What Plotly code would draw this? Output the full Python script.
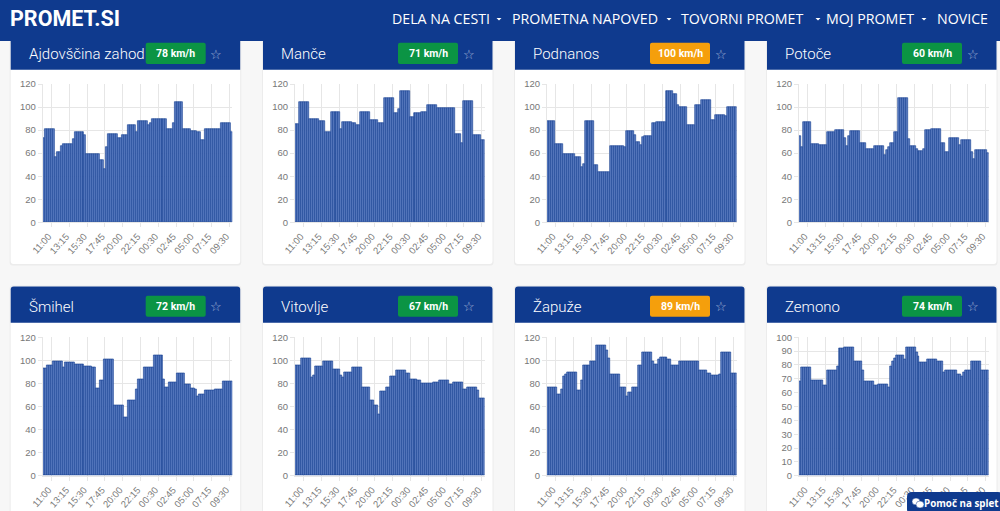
import plotly.graph_objects as go

times = ["10:00","10:15","10:30","10:45","11:00","11:15","11:30","11:45","12:00","12:15","12:30","12:45",
"13:00","13:15","13:30","13:45","14:00","14:15","14:30","14:45","15:00","15:15","15:30","15:45",
"16:00","16:15","16:30","16:45","17:00","17:15","17:30","17:45","18:00","18:15","18:30","18:45",
"19:00","19:15","19:30","19:45","20:00","20:15","20:30","20:45","21:00","21:15","21:30","21:45",
"22:00","22:15","22:30","22:45","23:00","23:15","23:30","23:45","00:00","00:15","00:30","00:45",
"01:00","01:15","01:30","01:45","02:00","02:15","02:30","02:45","03:00","03:15","03:30","03:45",
"04:00","04:15","04:30","04:45","05:00","05:15","05:30","05:45","06:00","06:15","06:30","06:45",
"07:00","07:15","07:30","07:45","08:00","08:15","08:30","08:45","09:00","09:15","09:30","09:45"]
tick_labels = ["11:00","13:15","15:30","17:45","20:00","22:15","00:30","02:45","05:00","07:15","09:30"]

ajdovscina = [73,81,81,81,81,81,57,61,61,66,68,68,68,68,68,72,78,78,78,78,78,76,59,59,59,59,59,59,59,54,54,46,
65,77,77,77,77,77,73,73,76,76,76,84,84,84,84,78,88,88,88,88,88,84,86,90,90,90,90,90,90,90,90,81,81,81,
86,104,104,104,104,81,81,81,81,79,79,79,78,78,71,71,81,81,81,81,81,81,81,81,86,86,86,86,86,78]
mance = [85,85,104,104,104,104,104,90,90,90,90,90,88,88,88,78,78,78,96,96,96,96,96,81,87,87,87,87,87,86,86,84,84,
96,96,96,96,96,89,89,89,89,86,86,86,108,108,108,108,108,95,95,98,114,114,114,114,114,91,91,95,95,95,95,
96,96,96,102,102,102,102,102,99,99,99,99,99,99,99,99,99,77,77,77,69,105,105,105,105,105,76,76,76,76,71,71]
podnanos = [88,88,88,88,68,68,68,68,59,59,59,59,59,59,57,57,57,48,51,88,88,88,88,88,50,50,44,44,44,44,44,44,
66,66,66,66,66,66,66,65,79,79,79,79,76,70,70,67,74,75,75,75,75,86,86,87,87,87,87,87,114,114,114,114,
111,111,102,100,100,100,100,84,84,84,84,102,102,102,106,106,106,106,106,89,89,93,93,93,93,93,92,100,100,100,100,100]
potoce = [75,65,87,87,87,87,68,68,68,68,67,67,67,67,78,78,78,78,80,80,80,80,80,73,66,75,79,79,79,79,79,69,69,69,
64,64,64,64,66,66,66,66,66,58,63,65,69,69,78,78,108,108,108,108,108,72,66,66,66,64,62,62,62,64,
80,80,80,81,81,81,81,81,69,69,61,61,73,73,73,73,73,67,71,71,71,71,71,61,55,63,63,63,63,63,63,60]
smihel = [93,93,96,96,96,99,99,99,99,99,94,98,98,98,98,98,97,97,97,97,97,95,95,95,95,94,94,76,76,83,83,
101,101,101,101,101,61,61,61,61,61,51,51,65,65,65,65,75,84,84,84,94,94,94,94,94,104,104,104,104,104,84,77,77,
81,81,81,81,89,89,89,89,79,79,79,76,76,75,69,71,71,71,74,74,74,74,74,75,75,75,75,82,82,82,82,82]
vitovlje = [96,96,96,102,102,102,102,102,85,87,95,95,95,95,99,99,99,99,99,92,92,92,92,87,85,90,90,90,90,94,94,94,94,94,
77,77,77,77,65,65,61,61,53,73,73,73,77,77,86,86,86,91,91,91,91,91,89,89,84,84,84,84,83,83,
80,80,80,80,80,80,81,81,81,83,83,83,83,83,79,79,81,81,81,81,81,75,75,77,77,77,77,77,74,67,67,67]
zapuze = [77,77,77,77,77,71,71,75,86,88,90,90,90,90,90,74,74,83,96,96,96,96,99,99,99,113,113,113,113,113,109,102,
88,88,88,88,88,77,77,77,69,72,72,77,77,77,96,96,107,107,107,107,107,99,97,97,101,103,103,103,103,101,101,
96,96,96,96,99,99,99,99,99,99,99,99,99,99,91,91,91,91,89,89,87,87,87,87,88,107,107,107,107,107,89,89,89]
zemono = [68,78,78,78,78,78,69,69,69,69,69,69,65,65,76,76,76,76,76,79,92,92,92,93,93,93,93,93,83,83,83,83,76,
68,68,68,68,68,65,65,66,66,66,66,66,64,79,83,85,87,87,87,87,84,93,93,93,93,93,89,86,82,82,82,82,
84,84,84,84,84,83,83,83,75,76,76,76,76,76,76,73,73,72,75,76,76,76,83,83,83,83,83,76,76,76,76]

names = ["Ajdovščina zahod","Manče","Podnanos","Potoče","Šmihel","Vitovlje","Žapuže","Zemono"]
speeds = [78,71,100,60,72,67,89,74]
alerts = [False,False,True,False,False,False,True,False]
series = [ajdovscina,mance,podnanos,potoce,smihel,vitovlje,zapuze,zemono]
axis_tops = [120,120,120,120,120,120,120,100]
axis_steps = [20,20,20,20,20,20,20,10]
nav_items = ["DELA NA CESTI","PROMETNA NAPOVED","TOVORNI PROMET","MOJ PROMET","NOVICE"]

W, H = 1000, 511
NAVY = "#0f3a8e"
GRID = "#e6e6e6"
px = lambda x: x / W
py = lambda y: 1 - y / H

def rr(x0, y0, x1, y1, r=0, tl=True, tr=True, bl=True, br=True):
    a = r if tl else 0; b = r if tr else 0; c = r if br else 0; d = r if bl else 0
    p = f"M{px(x0+a)},{py(y0)} L{px(x1-b)},{py(y0)} "
    if b: p += f"Q{px(x1)},{py(y0)} {px(x1)},{py(y0+b)} "
    p += f"L{px(x1)},{py(y1-c)} "
    if c: p += f"Q{px(x1)},{py(y1)} {px(x1-c)},{py(y1)} "
    p += f"L{px(x0+d)},{py(y1)} "
    if d: p += f"Q{px(x0)},{py(y1)} {px(x0)},{py(y1-d)} "
    p += f"L{px(x0)},{py(y0+a)} "
    if a: p += f"Q{px(x0)},{py(y0)} {px(x0+a)},{py(y0)} "
    return p + "Z"

shapes, ann = [], []
def fill(path, color, layer="below", line=None):
    shapes.append(dict(type="path", xref="paper", yref="paper", path=path, fillcolor=color,
                       line=dict(width=1 if line else 0, color=line or color), layer=layer))
def text(x, y, s, size, color, family, anchor="left", weight=None):
    f = dict(size=size, color=color, family=family)
    if weight: f["weight"] = weight
    ann.append(dict(x=px(x), y=py(y), xref="paper", yref="paper", text=s, showarrow=False,
                    xanchor=anchor, yanchor="middle", font=f, borderpad=0, borderwidth=0))

card_lefts = [10.7, 263, 515, 767]
plot_offset = 32
row_tops = [41, 286.5]
row_bottoms = [264, 530]
head_bottoms = [69.7, 322.7]
zero_y = [222.3, 475.7]
top_y = [84, 337.3]
badge_y = [(42.8, 64), (295.8, 316.8)]
title_y = [54, 306.5]

fig = go.Figure()
layout_axes = {}
for i in range(8):
    assert len(series[i]) == 96, (names[i], len(series[i]))
    c, r = i % 4, i // 4
    cx = card_lefts[c]
    rad = 3 if r else 0
    fill(rr(cx-1, row_tops[r]-1, cx+230.5, row_bottoms[r]+1.5, 3), "#ececec")
    fill(rr(cx, row_tops[r], cx+229.5, row_bottoms[r], 3), "#ffffff")
    fill(rr(cx, row_tops[r], cx+229.5, head_bottoms[r], rad, bl=False, br=False), NAVY)
    by0, by1 = badge_y[r]
    fill(rr(cx+135, by0, cx+195, by1, 2), "#f59f0c" if alerts[i] else "#0b9444")
    text(cx+18, title_y[r], names[i], 15, "#ffffff", "Roboto", weight=300)
    text(cx+165, (by0+by1)/2, f"{speeds[i]} km/h", 10.5, "#ffffff", "Roboto", "center", 700)
    text(cx+205.5, title_y[r], "☆", 13, "#a9b8d8", "DejaVu Sans", "center")

    suf = "" if i == 0 else str(i+1)
    x0 = cx + plot_offset
    layout_axes["xaxis"+suf] = dict(
        domain=[px(x0), px(x0+189.6)], anchor="y"+suf, type="category",
        categoryorder="array", categoryarray=times, range=[-0.5, 95.5],
        tickmode="array", tickvals=tick_labels, ticktext=tick_labels, tickangle=-48,
        ticklabelshift=-3,
        tickfont=dict(size=9.5, color="#777777", family="Liberation Sans"),
        showgrid=True, gridcolor=GRID, gridwidth=1, ticks="outside", ticklen=4, tickcolor=GRID,
        showline=True, linecolor=GRID, linewidth=1, zeroline=False, automargin=False)
    layout_axes["yaxis"+suf] = dict(
        domain=[py(zero_y[r]), py(top_y[r])], anchor="x"+suf, range=[0, axis_tops[i]],
        tick0=0, dtick=axis_steps[i],
        tickfont=dict(size=9.5, color="#777777", family="Liberation Sans"),
        showgrid=True, gridcolor=GRID, gridwidth=1, ticks="outside", ticklen=4, tickcolor=GRID,
        showline=True, linecolor=GRID, linewidth=1, zeroline=False, automargin=False)
    fig.add_trace(go.Bar(x=times, y=series[i], xaxis="x"+suf, yaxis="y"+suf, width=1.0,
                         marker=dict(color="#5c7dc0", line=dict(color="#0f3a8e", width=0.6)),
                         showlegend=False, hoverinfo="x+y"))

# top navigation bar
fill(rr(0, 0, W, 41), NAVY, layer="above")
text(9.5, 18, "PROMET.SI", 21.5, "#ffffff", "Roboto", weight=700)
nav_x = [392, 512, 681, 826, 937]
for name, x in zip(nav_items, nav_x):
    text(x, 18.5, name, 14.2, "#ffffff", "Open Sans")
for x in [499, 669, 818, 924]:
    fill(f"M{px(x-2.5)},{py(18)} L{px(x+2.5)},{py(18)} L{px(x)},{py(20.5)} Z", "#ffffff", layer="above")

# help button
fill(rr(907, 492, 1003, 514, 5), NAVY, layer="above")
for (a, b, c, d) in [(912, 498, 920, 505), (916, 501, 924, 508)]:
    shapes.append(dict(type="circle", xref="paper", yref="paper", x0=px(a), x1=px(c), y0=py(d), y1=py(b),
                       fillcolor="#ffffff", line=dict(width=0.5, color=NAVY), layer="above"))
text(999, 503, "Pomoč na splet", 9.8, "#ffffff", "Open Sans", "right", 700)

fig.update_layout(width=W, height=H, margin=dict(l=0, r=0, t=0, b=0), autosize=False,
                  paper_bgcolor="#f7f7f7", plot_bgcolor="#ffffff", barmode="overlay", bargap=0,
                  shapes=shapes, annotations=ann, showlegend=False, **layout_axes)

fig.write_html("out.html", config={"displayModeBar": False},
               post_script="document.body.style.margin='0';document.body.style.overflow='hidden';")
